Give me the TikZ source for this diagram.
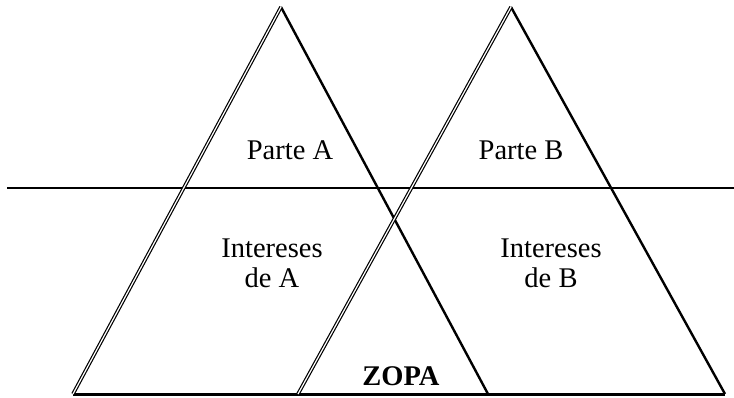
\documentclass[tikz,border=0pt]{standalone}
\usepackage{fontspec}
\setmainfont{Liberation Serif}
\begin{document}
\begin{tikzpicture}[x=1pt,y=1pt,
  dbl/.style={draw=black,double=white,double distance=1.2pt,line width=1.2pt},
  sgl/.style={draw=black,line width=2.4pt},
  lbl/.style={font=\fontsize{28.5}{30}\selectfont,align=center,inner sep=0pt},
  zopa/.style={font=\fontsize{28.5}{30}\selectfont\bfseries,inner sep=0pt}]
\useasboundingbox (0,0) rectangle (734,397);
% vertices
\coordinate (Atop) at (281,390);
\coordinate (Aleft) at (73,3);
\coordinate (Aright) at (488,3);
\coordinate (Btop) at (511,390);
\coordinate (Bleft) at (298,3);
\coordinate (Bright) at (725,3);
\coordinate (Hl) at (7,209);
\coordinate (Hr) at (734,209);
% base and horizontal line
\draw[line width=3pt] (Aleft) -- (Bright);
\draw[line width=2.6pt] (Hl) -- (Hr);
% right edges
\draw[sgl] (Atop) -- (Aright);
\draw[sgl] (Btop) -- (Bright);
% left edges (double)
\draw[dbl] (Atop) -- (Aleft);
\draw[dbl] (Btop) -- (Bleft);
% labels
\node[lbl] (pa) at (290,247) {Parte A};
\node[lbl] (pb) at (521,247) {Parte B};
\node[lbl] (ia) at (272,134) {Intereses\\de A};
\node[lbl] (ib) at (551,134) {Intereses\\de B};
\node[zopa] (z) at (401,21) {ZOPA};
\end{tikzpicture}
\end{document}
